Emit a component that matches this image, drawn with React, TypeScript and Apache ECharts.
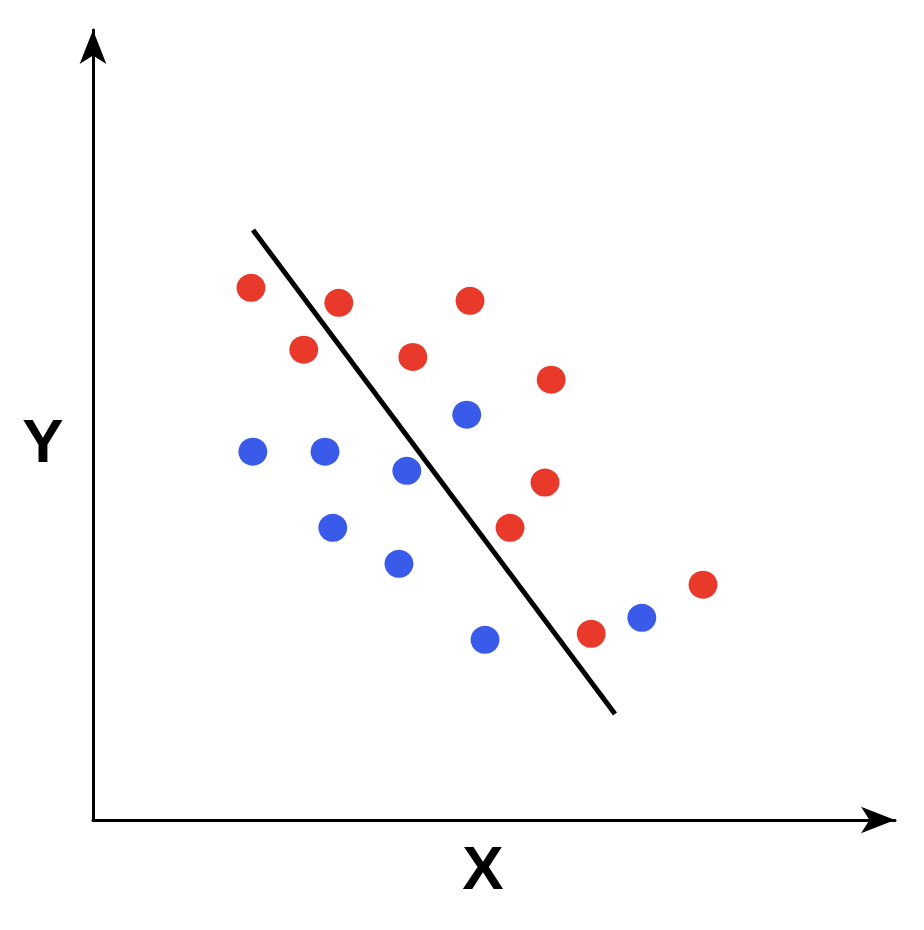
import React, { useEffect, useRef } from "react";
import * as echarts from "echarts";

// Values (axis units 0..10)
const redPoints: [number, number][] = [
  [1.97, 6.737],
  [3.065, 6.547],
  [4.701, 6.572],
  [2.628, 5.953],
  [3.988, 5.861],
  [5.713, 5.573],
  [5.636, 4.272],
  [5.2, 3.699],
  [6.212, 2.357],
  [7.606, 2.978],
];
const bluePoints: [number, number][] = [
  [1.993, 4.662],
  [2.893, 4.662],
  [4.66, 5.13],
  [3.913, 4.42],
  [2.99, 3.699],
  [3.815, 3.243],
  [4.888, 2.281],
  [6.843, 2.559],
];
const separatorLine: [number, number][] = [
  [1.995, 7.468],
  [6.509, 1.342],
];
const xName = "X";
const yName = "Y";

export default function App() {
  const ref = useRef<HTMLDivElement>(null);
  useEffect(() => {
    if (!ref.current) return;
    const chart = echarts.init(ref.current, undefined, { renderer: "svg" });
    const axisLine = {
      show: true,
      symbol: ["none", "arrow"],
      symbolSize: [20, 34],
      lineStyle: { color: "#000", width: 3 },
    };
    const labelFont = {
      fontSize: 62,
      fontWeight: "bold" as const,
      fontFamily: "Liberation Sans, Arial, sans-serif",
      fill: "#000",
      align: "center" as const,
      verticalAlign: "middle" as const,
    };
    chart.setOption({
      animation: false,
      backgroundColor: "#fff",
      grid: { left: 93, right: 29, top: 30, bottom: 110 },
      xAxis: {
        type: "value",
        min: 0,
        max: 10,
        axisLine,
        axisTick: { show: false },
        axisLabel: { show: false },
        splitLine: { show: false },
      },
      yAxis: {
        type: "value",
        min: 0,
        max: 10,
        axisLine,
        axisTick: { show: false },
        axisLabel: { show: false },
        splitLine: { show: false },
      },
      graphic: [
        { type: "text", x: 43, y: 440, style: { text: yName, ...labelFont } },
        { type: "text", x: 483, y: 867, style: { text: xName, ...labelFont } },
      ],
      series: [
        {
          type: "line",
          data: separatorLine,
          symbol: "none",
          lineStyle: { color: "#000", width: 5 },
          z: 2,
        },
        {
          type: "scatter",
          data: redPoints,
          symbol: "circle",
          symbolSize: [29, 28],
          itemStyle: { color: "#E8392A", opacity: 1 },
          z: 3,
        },
        {
          type: "scatter",
          data: bluePoints,
          symbol: "circle",
          symbolSize: [29, 28],
          itemStyle: { color: "#3A5BE9", opacity: 1 },
          z: 3,
        },
      ],
    });
    return () => chart.dispose();
  }, []);
  return (
    <div
      ref={ref}
      style={{ position: "fixed", left: 0, top: 0, width: 924, height: 930 }}
    />
  );
}
